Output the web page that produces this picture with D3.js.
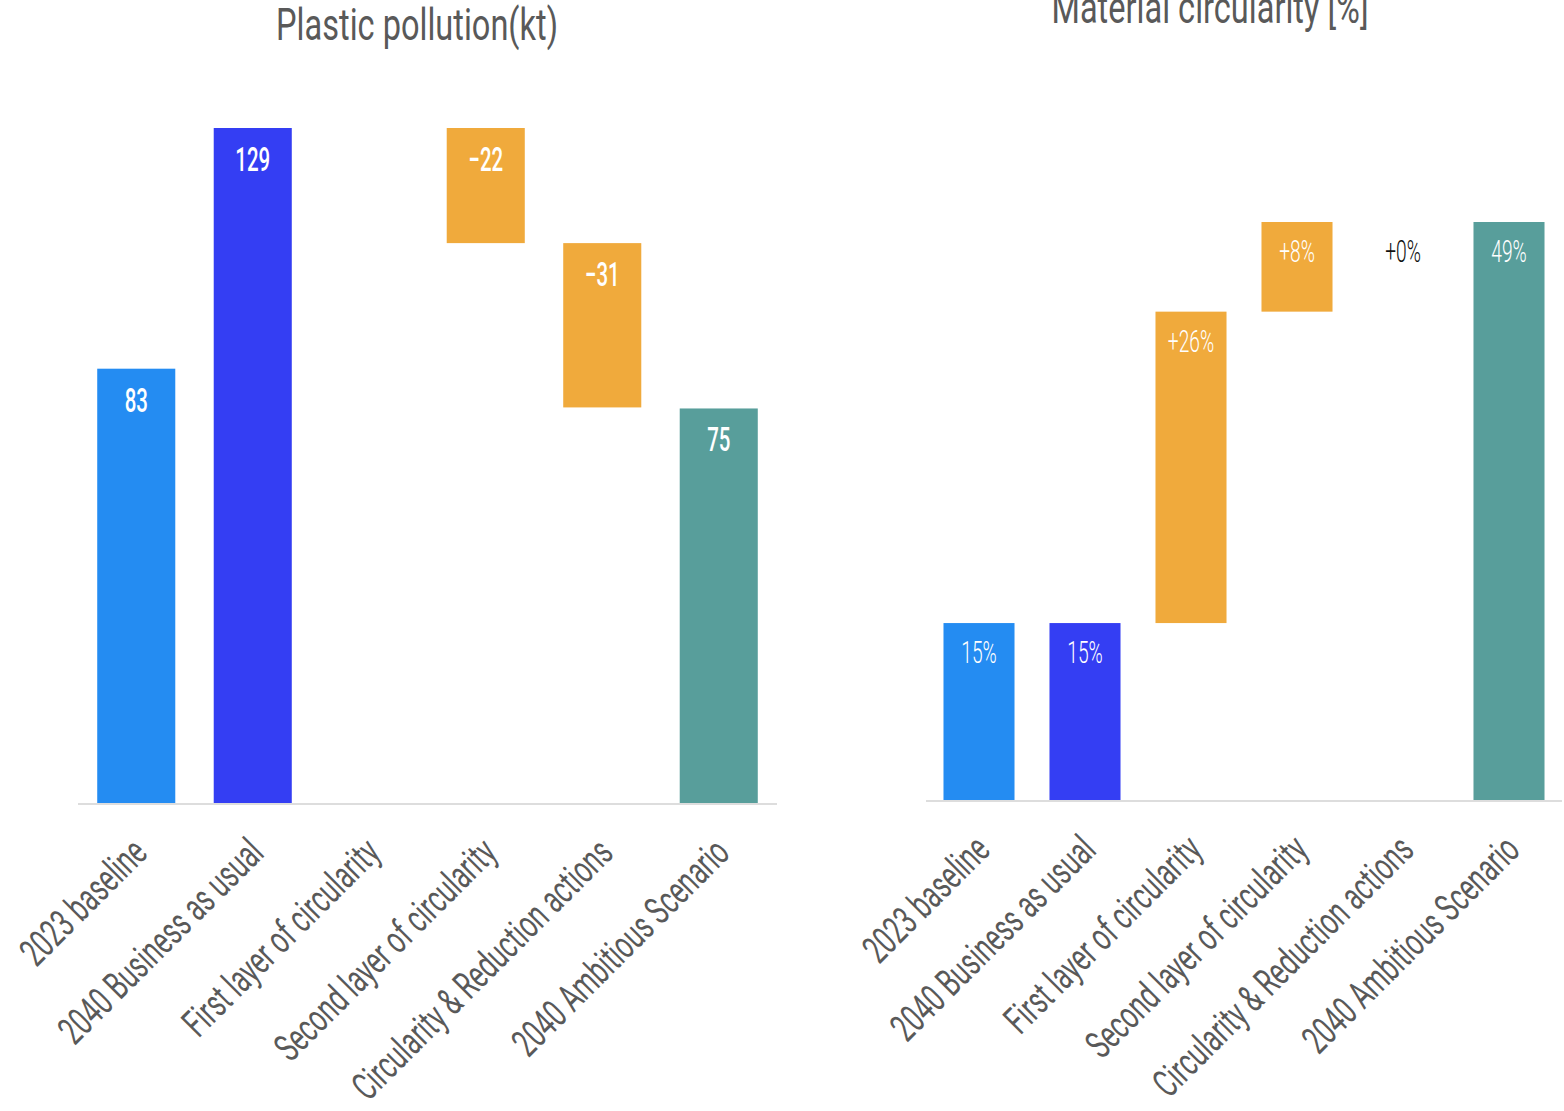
<!DOCTYPE html>
<html>
<head>
<meta charset="utf-8">
<script src="https://cdn.jsdelivr.net/npm/d3@7"></script>
<style>
  body { margin: 0; background: #fff; }
  text { font-family: Roboto, "Noto Sans", sans-serif; }
</style>
</head>
<body>
<div id="chart-area"></div>
<script>
// SVG Size
var width = 1564,
    height = 1111;

// data
var categories = ["2023 baseline", "2040 Business as usual", "First layer of circularity",
    "Second layer of circularity", "Circularity & Reduction actions", "2040 Ambitious Scenario"];
var barTypes = ["total", "total", "delta", "delta", "delta", "total"];
var barColors = ["#248CF2", "#343EF3", "#F0AA3C", "#F0AA3C", "#F0AA3C", "#589E9B"];

var pollutionValues = [83, 129, 0, -22, -31.4, 75.4];     // kt
var circularityValues = [15, 15, 26.4, 7.6, 0, 49];      // %

var svg = d3.select("#chart-area").append("svg")
    .attr("width", width)
    .attr("height", height);

// turn values into waterfall bars
function waterfall(values) {
    var running = 0;
    return values.map(function (v, i) {
        var d = { name: categories[i], value: v, type: barTypes[i], color: barColors[i] };
        if (d.type == "total") {
            d.y0 = 0; d.y1 = v; running = v;
        } else {
            d.y0 = running; d.y1 = running + v; running = running + v;
        }
        return d;
    });
}

function drawChart(opt) {
    var data = waterfall(opt.values);

    var x = d3.scaleBand()
        .domain(categories)
        .range([opt.left, opt.right])
        .paddingInner(0.33)
        .paddingOuter(0.165);

    var y = d3.scaleLinear()
        .domain([0, opt.max])
        .range([opt.base, opt.top]);

    var g = svg.append("g");

    g.selectAll("rect")
        .data(data.filter(function (d) { return d.value != 0; }))
        .enter()
        .append("rect")
        .attr("x", function (d) { return x(d.name); })
        .attr("width", x.bandwidth())
        .attr("y", function (d) { return y(Math.max(d.y0, d.y1)); })
        .attr("height", function (d) { return Math.abs(y(d.y0) - y(d.y1)); })
        .attr("fill", function (d) { return d.color; });

    // baseline
    g.append("line")
        .attr("x1", opt.left).attr("x2", opt.right)
        .attr("y1", opt.base + 1).attr("y2", opt.base + 1)
        .attr("stroke", "#dddddd")
        .attr("stroke-width", 2);

    // value labels
    g.selectAll(".val")
        .data(data.filter(function (d) { return d.value != 0 || opt.showZero; }))
        .enter()
        .append("g")
        .attr("class", "val")
        .attr("transform", function (d) {
            return "translate(" + (x(d.name) + x.bandwidth() / 2) + "," +
                (y(Math.max(d.y0, d.y1)) + opt.labelDy) + ") scale(" + opt.labelSx + ",1)";
        })
        .append("text")
        .attr("text-anchor", "middle")
        .attr("font-size", opt.labelSize)
        .attr("font-weight", opt.labelWeight)
        .attr("fill", function (d) { return d.value == 0 ? "#111" : "#fff"; })
        .text(function (d) { return opt.format(d); });

    // x axis labels
    g.selectAll(".cat")
        .data(categories)
        .enter()
        .append("g")
        .attr("class", "cat")
        .attr("transform", function (d) {
            return "translate(" + (x(d) + x.bandwidth() / 2 + 13) + "," + (opt.base + 52) +
                ") rotate(-45) scale(0.66,1)";
        })
        .append("text")
        .attr("text-anchor", "end")
        .attr("font-size", 39)
        .attr("fill", "#595959")
        .text(function (d) { return d; });

    // title
    g.append("g")
        .attr("transform", "translate(" + opt.titleX + "," + opt.titleY + ") scale(0.74,1)")
        .append("text")
        .attr("text-anchor", "middle")
        .attr("font-size", 44)
        .attr("fill", "#595959")
        .text(opt.title);
}

drawChart({
    values: pollutionValues, left: 78, right: 777, base: 803, top: 128, max: 129,
    labelDy: 43, labelSx: 0.62, labelSize: 33, labelWeight: 500, showZero: false,
    format: function (d) { return d3.format("d")(Math.round(d.value)); },
    title: "Plastic pollution(kt)", titleX: 417, titleY: 40
});

drawChart({
    values: circularityValues, left: 926, right: 1562, base: 800, top: 222, max: 49,
    labelDy: 40, labelSx: 0.62, labelSize: 31, labelWeight: 300, showZero: true,
    format: function (d) {
        var r = Math.round(d.value);
        return (d.type == "delta" ? "+" : "") + r + "%";
    },
    title: "Material circularity [%]", titleX: 1210, titleY: 23
});
</script>
</body>
</html>
